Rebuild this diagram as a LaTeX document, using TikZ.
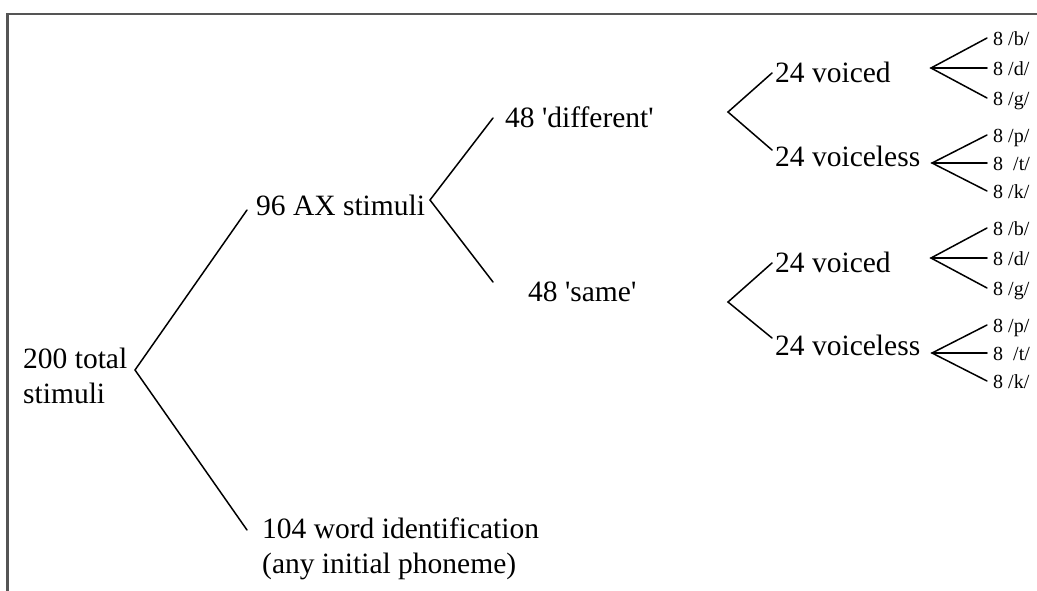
\documentclass[tikz,border=0pt]{standalone}
\usepackage{fontspec}
\setmainfont{Liberation Serif}
\definecolor{framegray}{RGB}{85,85,85}
\begin{document}
\begin{tikzpicture}[x=1pt,y=-1pt,
  big/.style={font=\fontsize{29.5}{35}\selectfont, inner sep=0pt, anchor=base west, align=left},
  small/.style={font=\fontsize{20}{24}\selectfont, inner sep=0pt, anchor=base west},
  branch/.style={line width=1.5pt, line cap=round, line join=miter},
  framestyle/.style={draw=framegray, line width=2.5pt}]
\useasboundingbox (0,0) rectangle (1037,590);
\draw[framestyle] (1040,14) -- (7.5,14) -- (7.5,593);

% text nodes (base = baseline of the last line)
\node[big] (root) at (23,403) {200 total\\stimuli};
\node[big] (ax) at (256,215) {96 AX stimuli};
\node[big] (w) at (262,573) {104 word identification\\(any initial phoneme)};
\node[big] (diff) at (505,127) {48 \textquotesingle different\textquotesingle};
\node[big] (same) at (528,301) {48 \textquotesingle same\textquotesingle};
\node[big] (dv) at (775,82) {24 voiced};
\node[big] (dvl) at (775,166) {24 voiceless};
\node[big] (sv) at (775,272) {24 voiced};
\node[big] (svl) at (775,355) {24 voiceless};

\node[small] (b1) at (993,45) {8 /b/};
\node[small] (d1) at (993,75) {8 /d/};
\node[small] (g1) at (993,105) {8 /g/};
\node[small] (p1) at (993,142) {8 /p/};
\node[small] (t1) at (993,170) {8\ \ /t/};
\node[small] (k1) at (993,198) {8 /k/};
\node[small] (b2) at (993,235) {8 /b/};
\node[small] (d2) at (993,265) {8 /d/};
\node[small] (g2) at (993,295) {8 /g/};
\node[small] (p2) at (993,332) {8 /p/};
\node[small] (t2) at (993,360) {8\ \ /t/};
\node[small] (k2) at (993,388) {8 /k/};

% fork vertices
\coordinate (v0) at (135,370);
\coordinate (v1) at (430,200);
\coordinate (v2) at (728,112);
\coordinate (v3) at (728,302);
\coordinate (v4) at (931,68);
\coordinate (v5) at (932,163);
\coordinate (v6) at (931,258);
\coordinate (v7) at (932,353);

% connectors
\draw[branch] ([shift={(-9,-5)}]ax.base west) -- (v0) -- ([shift={(-15,-43)}]w.base west);
\draw[branch] ([shift={(-12,-9)}]diff.base west) -- (v1) -- ([shift={(-35,-19)}]same.base west);
\draw[branch] ([shift={(-3,-9)}]dv.base west) -- (v2) -- ([shift={(-3,-16)}]dvl.base west);
\draw[branch] ([shift={(-3,-9)}]sv.base west) -- (v3) -- ([shift={(-3,-17)}]svl.base west);
\foreach \v/\a/\b/\c in {v4/b1/d1/g1, v5/p1/t1/k1, v6/b2/d2/g2, v7/p2/t2/k2}{
  \draw[branch] ([shift={(-6,-7)}]\a.base west) -- (\v) -- ([shift={(-6,-7)}]\c.base west);
  \draw[branch] (\v) -- ([shift={(-6,-7)}]\b.base west);
}
\end{tikzpicture}
\end{document}
